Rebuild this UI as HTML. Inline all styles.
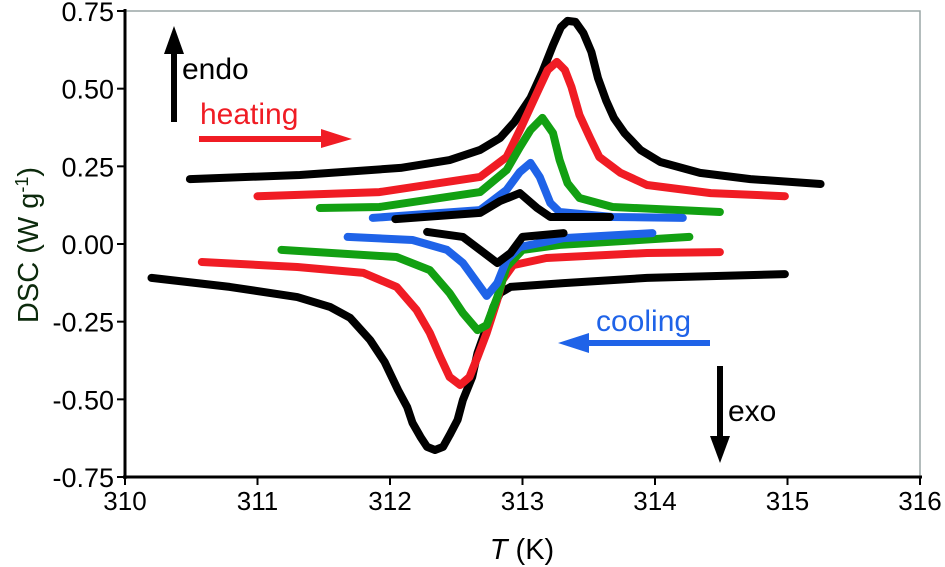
<!DOCTYPE html>
<html><head><meta charset="utf-8"><style>
body{margin:0;background:#fff}
svg{display:block;font-family:"Liberation Sans",sans-serif}
</style></head><body>
<svg id="c" width="945" height="567" viewBox="0 0 945 567"></svg>
<script>
const xTicks=[310,311,312,313,314,315,316];
const yTicks=[0.75,0.5,0.25,0,-0.25,-0.5,-0.75];
const yTickLabels=["0.75","0.50","0.25","0.00","-0.25","-0.50","-0.75"];
const seriesNames=["heat-1","heat-2","heat-3","heat-4","heat-5","cool-1","cool-2","cool-3","cool-4","cool-5"];
const seriesColors=["#000","#f01c24","#12a012","#1f63e8","#000","#000","#f01c24","#12a012","#1f63e8","#000"];
const h1T=[310.49,311.32,312.08,312.45,312.68,312.83,312.94,313.06,313.15,313.23,313.29,313.34,313.40,313.46,313.52,313.57,313.63,313.69,313.77,313.89,314.04,314.34,314.72,315.25];
const h1V=[0.209,0.222,0.245,0.270,0.303,0.341,0.393,0.470,0.554,0.640,0.698,0.718,0.715,0.679,0.618,0.534,0.463,0.406,0.357,0.303,0.264,0.229,0.209,0.193];
const h2T=[311.00,311.92,312.68,312.88,312.98,313.06,313.13,313.19,313.26,313.32,313.37,313.43,313.51,313.58,313.74,313.94,314.42,314.98];
const h2V=[0.154,0.167,0.216,0.280,0.367,0.441,0.505,0.560,0.586,0.560,0.505,0.415,0.341,0.280,0.229,0.190,0.164,0.154];
const h3T=[311.47,311.92,312.68,312.88,312.98,313.06,313.15,313.23,313.28,313.34,313.43,313.68,314.49];
const h3V=[0.116,0.119,0.167,0.238,0.312,0.367,0.406,0.357,0.270,0.196,0.148,0.119,0.103];
const h4T=[311.87,312.68,312.88,312.98,313.06,313.13,313.21,313.28,313.68,314.21];
const h4V=[0.084,0.109,0.174,0.232,0.261,0.216,0.132,0.103,0.087,0.084];
const h5T=[312.04,312.68,312.83,312.98,313.11,313.21,313.66];
const h5V=[0.080,0.100,0.138,0.164,0.116,0.087,0.087];
const c1T=[310.20,310.79,311.30,311.55,311.70,311.85,311.96,312.06,312.13,312.17,312.23,312.28,312.34,312.40,312.45,312.51,312.55,312.62,312.66,312.73,312.78,312.83,312.91,313.31,313.94,314.98];
const c1V=[-0.109,-0.138,-0.171,-0.203,-0.238,-0.309,-0.380,-0.470,-0.525,-0.576,-0.621,-0.653,-0.663,-0.653,-0.615,-0.566,-0.502,-0.428,-0.351,-0.267,-0.203,-0.158,-0.138,-0.126,-0.109,-0.097];
const c2T=[310.58,311.30,311.80,312.05,312.20,312.30,312.38,312.45,312.53,312.60,312.66,312.73,312.81,312.85,312.93,313.18,313.94,314.49];
const c2V=[-0.058,-0.074,-0.093,-0.138,-0.212,-0.286,-0.364,-0.428,-0.454,-0.428,-0.364,-0.286,-0.180,-0.116,-0.068,-0.045,-0.029,-0.026];
const c3T=[311.18,312.05,312.30,312.45,312.55,312.66,312.73,312.81,312.88,313.00,313.28,314.26];
const c3V=[-0.019,-0.042,-0.084,-0.158,-0.222,-0.277,-0.261,-0.171,-0.074,-0.019,-0.003,0.023];
const c4T=[311.68,312.17,312.43,312.55,312.66,312.73,312.81,312.88,312.98,313.31,313.98];
const c4V=[0.023,0.013,-0.019,-0.061,-0.126,-0.167,-0.126,-0.051,-0.010,0.019,0.035];
const c5T=[312.28,312.55,312.68,312.81,312.91,313.00,313.31];
const c5V=[0.039,0.023,-0.019,-0.061,-0.029,0.023,0.035];
const allT=[h1T,h2T,h3T,h4T,h5T,c1T,c2T,c3T,c4T,c5T];
const allV=[h1V,h2V,h3V,h4V,h5V,c1V,c2V,c3V,c4V,c5V];

const L=125,R=920,T0=11,B=477;
const xS=t=>L+(t-310)/6*(R-L);
const yS=v=>T0+(0.75-v)/1.5*(B-T0);
const NS="http://www.w3.org/2000/svg";
const svg=document.getElementById('c');
function mk(tag,attrs,parent){const e=document.createElementNS(NS,tag);for(const k in attrs)e.setAttribute(k,attrs[k]);(parent||svg).appendChild(e);return e;}

let e=mk('path',{d:`M${L} ${T0}H${R}V${B}`,fill:'none',stroke:'#9aa6a6','stroke-width':1.5});



const gS=mk('g',{});


for(let s=0;s<allT.length;s++){
  const d=allT[s].map((t,i)=>(i?'L':'M')+xS(t).toFixed(1)+' '+yS(allV[s][i]).toFixed(1)).join('');
  const p=mk('path',{d:d,fill:'none',stroke:seriesColors[s],'stroke-width':8,'stroke-linecap':'round','stroke-linejoin':'round'},gS);
  
  
}

e=mk('line',{x1:L,y1:T0-2,x2:L,y2:B+2,stroke:'#000','stroke-width':3});


e=mk('line',{x1:L-2,y1:B,x2:R+2,y2:B,stroke:'#000','stroke-width':3});


xTicks.forEach(t=>{
  const x=xS(t);
  let l=mk('line',{x1:x,y1:B,x2:x,y2:B+8,stroke:'#000','stroke-width':2});
  
  
  let tx=mk('text',{x:x,y:B+33,'text-anchor':'middle','font-size':26});
  tx.textContent=t;
  
  
});
yTicks.forEach((v,i)=>{
  const y=yS(v);
  let l=mk('line',{x1:L-8,y1:y,x2:L,y2:y,stroke:'#000','stroke-width':2});
  
  
  let tx=mk('text',{x:L-11,y:y+10,'text-anchor':'end','font-size':27});
  tx.textContent=yTickLabels[i];
  
  
});
</script>
<svg width="945" height="567" style="position:absolute;left:0;top:0">
  <text x="522" y="559" text-anchor="middle" font-size="29" font-family="Liberation Sans"><tspan font-style="italic">T</tspan> (K)</text>
  <text transform="translate(38,245) rotate(-90)" text-anchor="middle" font-size="29" fill="#0c2a0c" font-family="Liberation Sans">DSC (W g<tspan dy="-10" font-size="18">-1</tspan><tspan dy="10">)</tspan></text>
  <g><line x1="174" y1="122" x2="174" y2="50" stroke="#000" stroke-width="6"/><polygon points="164,54 184,54 174,26" fill="#000"/></g>
  <text x="182" y="79" font-size="30" font-family="Liberation Sans">endo</text>
  <text x="200" y="124" font-size="30" fill="#f01c24" font-family="Liberation Sans">heating</text>
  <g><line x1="199" y1="139" x2="325" y2="139" stroke="#f01c24" stroke-width="6"/><polygon points="321,129 321,148 352,139" fill="#f01c24"/></g>
  <text x="596" y="331" font-size="30" fill="#1f63e8" font-family="Liberation Sans">cooling</text>
  <g><line x1="710" y1="343" x2="585" y2="343" stroke="#1f63e8" stroke-width="6"/><polygon points="589,333 589,353 558,343" fill="#1f63e8"/></g>
  <g><line x1="720" y1="366" x2="720" y2="440" stroke="#000" stroke-width="6"/><polygon points="710,436 730,436 720,463" fill="#000"/></g>
  <text x="728" y="421" font-size="30" font-family="Liberation Sans">exo</text>
</svg>
</body></html>
